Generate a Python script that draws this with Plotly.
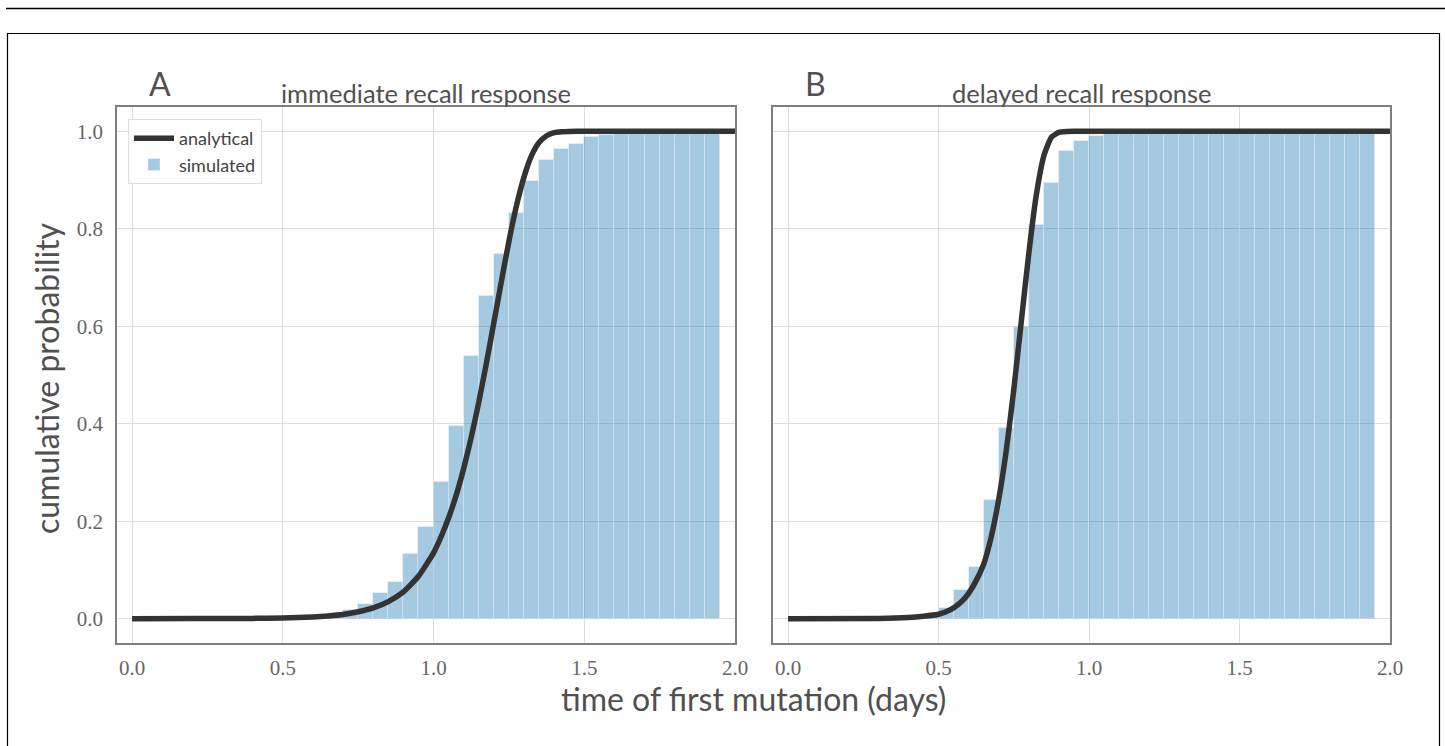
import plotly.graph_objects as go

W, H = 1445, 746

# ---------------- data ----------------
bin_left = [0.00, 0.05, 0.10, 0.15, 0.20, 0.25, 0.30, 0.35, 0.40, 0.45,
            0.50, 0.55, 0.60, 0.65, 0.70, 0.75, 0.80, 0.85, 0.90, 0.95,
            1.00, 1.05, 1.10, 1.15, 1.20, 1.25, 1.30, 1.35, 1.40, 1.45,
            1.50, 1.55, 1.60, 1.65, 1.70, 1.75, 1.80, 1.85, 1.90]
bin_width = 0.05

sim_immediate = [0, 0, 0, 0, 0, 0, 0, 0, 0, 0,
                 0, 0.002, 0.005, 0.012, 0.018, 0.031, 0.052, 0.075, 0.132, 0.188,
                 0.280, 0.396, 0.539, 0.663, 0.748, 0.833, 0.899, 0.942, 0.964, 0.975,
                 0.988, 0.993, 0.995, 0.997, 0.998, 0.999, 0.999, 1.0, 1.0]

sim_delayed = [0, 0, 0, 0, 0, 0, 0, 0, 0, 0.004,
               0.021, 0.058, 0.105, 0.244, 0.392, 0.599, 0.808, 0.895, 0.960, 0.981,
               0.990, 0.994, 0.996, 0.997, 0.998, 0.999, 0.999, 0.999, 0.999, 1.0,
               1.0, 1.0, 1.0, 1.0, 1.0, 1.0, 1.0, 1.0, 1.0]

t_immediate = [0.0, 0.2, 0.4, 0.5, 0.55, 0.6, 0.65, 0.7, 0.75, 0.8, 0.85, 0.9, 0.95, 1.0, 1.025,
               1.05, 1.075, 1.1, 1.125, 1.15, 1.175, 1.2, 1.225, 1.25, 1.275, 1.3,
               1.325, 1.35, 1.375, 1.4, 1.425, 1.45, 1.5, 2.0]
ana_immediate = [0.0, 0.0001, 0.0005, 0.0014, 0.0022, 0.0035, 0.0056, 0.0085, 0.014, 0.022, 0.035, 0.055,
                 0.087, 0.135, 0.168, 0.207, 0.253, 0.308, 0.372, 0.444, 0.523, 0.607,
                 0.692, 0.774, 0.847, 0.906, 0.950, 0.977, 0.991, 0.9975, 0.9993, 0.9999,
                 1.0, 1.0]

t_delayed = [0.0, 0.3, 0.4, 0.45, 0.5, 0.525, 0.55, 0.575, 0.6, 0.625, 0.65, 0.675, 0.7, 0.725,
             0.75, 0.775, 0.8, 0.825, 0.85, 0.875, 0.9, 0.925, 0.95, 2.0]
ana_delayed = [0.0, 0.0005, 0.0025, 0.005, 0.009, 0.014, 0.022, 0.034, 0.052, 0.078, 0.112, 0.168,
               0.245, 0.345, 0.47, 0.61, 0.75, 0.87, 0.95, 0.988, 0.998, 0.9997, 1.0, 1.0]

panel_titles = ["immediate recall response", "delayed recall response"]
panel_letters = ["A", "B"]
x_ticks = [0.0, 0.5, 1.0, 1.5, 2.0]
x_ticklabels = ["0.0", "0.5", "1.0", "1.5", "2.0"]
y_ticks = [0.0, 0.2, 0.4, 0.6, 0.8, 1.0]
y_ticklabels = ["0.0", "0.2", "0.4", "0.6", "0.8", "1.0"]

# ---------------- style ----------------
SANS = "Lato, Open Sans, sans-serif"
SERIF = "Liberation Serif, DejaVu Serif, serif"
BAR_COLOR = "rgba(31,119,180,0.4)"
LINE_COLOR = "#333333"
GRID = "#dddddd"
FRAME = "#7f7f7f"
TXT = "#505050"

def px_x(p):
    return p / W

def px_y(p):
    return 1 - p / H

domA = [px_x(117), px_x(735)]
domB = [px_x(773), px_x(1390)]
domY = [px_y(643), px_y(107)]

fig = go.Figure()

bin_centers = [b + bin_width / 2 for b in bin_left]

for i, (sim, tt, ana) in enumerate([(sim_immediate, t_immediate, ana_immediate),
                                      (sim_delayed, t_delayed, ana_delayed)]):
    xa = "x" if i == 0 else "x2"
    ya = "y" if i == 0 else "y2"
    fig.add_trace(go.Bar(
        x=bin_centers, y=sim, width=[bin_width] * len(bin_centers),
        marker=dict(color=BAR_COLOR, line=dict(color="rgba(255,255,255,0.35)", width=0.8)),
        name="simulated", showlegend=(i == 0), legendrank=2,
        xaxis=xa, yaxis=ya))
    fig.add_trace(go.Scatter(
        x=tt, y=ana, mode="lines",
        line=dict(color=LINE_COLOR, width=5.5, shape="spline", smoothing=0.5),
        name="analytical", showlegend=(i == 0), legendrank=1,
        xaxis=xa, yaxis=ya))

axis_common = dict(
    showgrid=True, gridcolor=GRID, gridwidth=1, automargin=False,
    zeroline=False, showline=True, mirror=True, linecolor=FRAME, linewidth=1.5,
    ticks="", tickfont=dict(family=SERIF, size=21, color="#666666"),
)

fig.update_layout(
    width=W, height=H, autosize=False,
    margin=dict(l=0, r=0, t=0, b=0, pad=0, autoexpand=False),
    paper_bgcolor="white", plot_bgcolor="white",
    bargap=0, barmode="overlay",
    showlegend=True,
    legend=dict(x=px_x(128), y=px_y(119), xanchor="left", yanchor="top",
                bgcolor="rgba(255,255,255,0.9)", bordercolor="#dddddd", borderwidth=1,
                font=dict(family=SANS, size=18, color="#444444"),
                traceorder="normal", itemwidth=40),
    xaxis=dict(domain=domA, range=[-0.05, 2.0], tickvals=x_ticks, ticktext=x_ticklabels,
               ticklabelstandoff=5, anchor="y", **axis_common),
    xaxis2=dict(domain=domB, range=[-0.05, 2.0], tickvals=x_ticks, ticktext=x_ticklabels,
                ticklabelstandoff=5, anchor="y2", **axis_common),
    yaxis=dict(domain=domY, range=[-0.05, 1.05], tickvals=y_ticks, ticktext=y_ticklabels,
               ticklabelstandoff=8, anchor="x", **axis_common),
    yaxis2=dict(domain=domY, range=[-0.05, 1.05], tickvals=y_ticks, showticklabels=False,
                anchor="x2", **axis_common),
)

ann = []
ann.append(dict(text=panel_letters[0], x=px_x(160), y=px_y(84), xref="paper", yref="paper",
                showarrow=False, font=dict(family=SANS, size=32, color=TXT),
                xanchor="center", yanchor="middle"))
ann.append(dict(text=panel_letters[1], x=px_x(815), y=px_y(84), xref="paper", yref="paper",
                showarrow=False, font=dict(family=SANS, size=32, color=TXT),
                xanchor="center", yanchor="middle"))
ann.append(dict(text=panel_titles[0], x=(domA[0] + domA[1]) / 2, y=px_y(93), xref="paper", yref="paper",
                showarrow=False, font=dict(family=SANS, size=25.5, color=TXT),
                xanchor="center", yanchor="middle"))
ann.append(dict(text=panel_titles[1], x=(domB[0] + domB[1]) / 2, y=px_y(93), xref="paper", yref="paper",
                showarrow=False, font=dict(family=SANS, size=25.5, color=TXT),
                xanchor="center", yanchor="middle"))
ann.append(dict(text="time of first mutation (days)", x=px_x(753), y=px_y(698), xref="paper", yref="paper",
                showarrow=False, font=dict(family=SANS, size=32, color=TXT),
                xanchor="center", yanchor="middle"))
ann.append(dict(text="cumulative probability", x=px_x(46), y=px_y(378), xref="paper", yref="paper",
                showarrow=False, textangle=-90, font=dict(family=SANS, size=32, color=TXT),
                xanchor="center", yanchor="middle"))
fig.update_layout(annotations=ann)

fig.add_shape(type="line", xref="paper", yref="paper", x0=px_x(6), x1=1.0, y0=px_y(8.5), y1=px_y(8.5),
              line=dict(color="black", width=1.5))
fig.add_shape(type="rect", xref="paper", yref="paper", x0=px_x(7.5), x1=px_x(1439.5),
              y0=-0.05, y1=px_y(33.5), line=dict(color="black", width=1.2), fillcolor="rgba(0,0,0,0)")

# remove the default page margin so the 1445px figure fits the window exactly
post = """
document.body.style.margin = '0';
document.body.style.padding = '0';
document.documentElement.style.overflow = 'hidden';
document.body.style.overflow = 'hidden';
"""

fig.write_html("out.html", config={"responsive": False}, post_script=post)
